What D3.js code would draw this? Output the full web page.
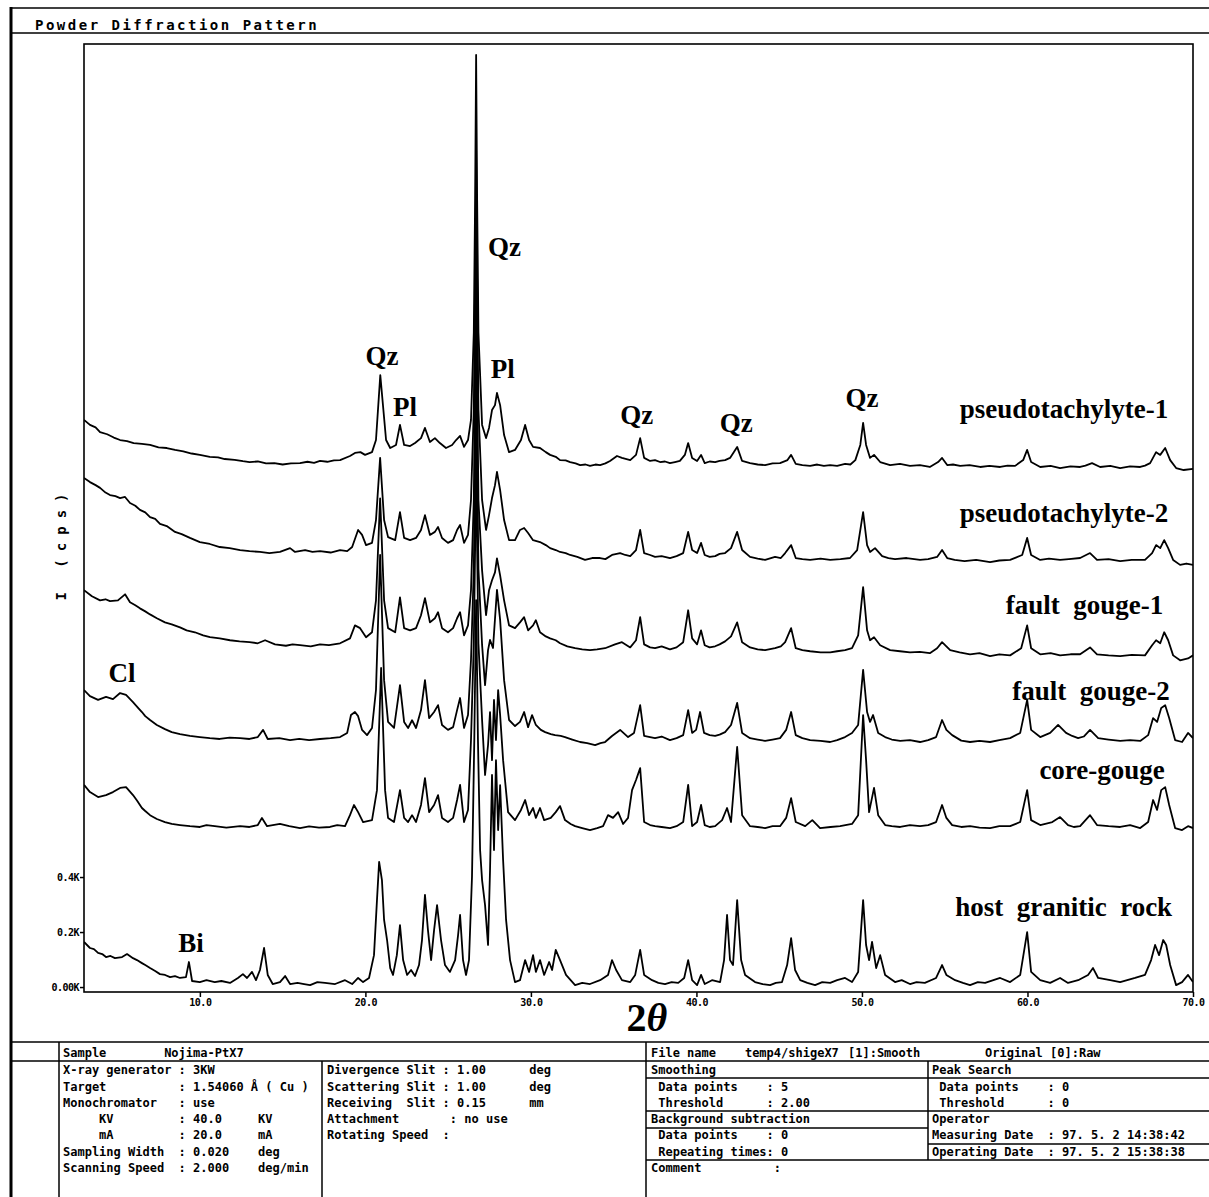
<!DOCTYPE html>
<html>
<head>
<meta charset="utf-8">
<script src="https://cdn.jsdelivr.net/npm/d3@7"></script>
<style>
body { margin: 0; background: #fff; }
text { fill: #000; }
.mono { font-family: "DejaVu Sans Mono", monospace; font-weight: bold; }
.lab { font-family: "Liberation Serif", "Times New Roman", serif; font-weight: bold; font-size: 27px; white-space: pre; }
.tbl { font-family: "DejaVu Sans Mono", monospace; font-weight: bold; font-size: 12px; white-space: pre; }
</style>
</head>
<body>
<svg id="chart" width="1209" height="1197"></svg>
<script>
// 2theta ticks, intensity ticks (cps)
var thetaTicks = [10, 20, 30, 40, 50, 60, 70]
var yTickValues = [0, 200, 400]
var yTickLabels = ['0.00K', '0.2K', '0.4K']

var seriesNames = ['pseudotachylyte-1', 'pseudotachylyte-2', 'fault  gouge-1', 'fault  gouge-2', 'core-gouge', 'host  granitic  rock']
var seriesOffsets = [1820, 1480, 1130, 820, 500, 0]
var seriesLabelTheta = [68.5, 68.5, 68.2, 68.6, 68.3, 68.74]
var seriesLabelCps = [2069, 1691, 1356, 1044, 756, 258]

var peakLabels = ['Qz', 'Pl', 'Qz', 'Pl', 'Qz', 'Qz', 'Qz', 'Cl', 'Bi']
var peakLabelTheta = [21.0, 22.4, 28.4, 28.3, 36.4, 42.4, 50.0, 5.3, 9.47]
var peakLabelCps = [2262, 2076, 2658, 2214, 2047, 2018, 2109, 1109, 127]

// [2theta, cps]
var pseudo1 = [[3.0,242],[3.36,224],[3.7,215],[3.97,198],[4.4,190],[4.8,178],[5.18,169],[5.6,165],[6.0,158],[6.5,155],[6.99,151],[7.5,142],[8.0,140],[8.5,133],[9.0,128],[9.5,120],[10.0,115],[10.6,108],[11.1,106],[11.5,100],[12.1,97],[12.6,92],[13.0,89],[13.5,91],[14.0,84],[14.5,85],[15.0,80],[15.5,84],[16.05,85],[16.5,90],[16.9,86],[17.26,93],[17.7,90],[18.1,95],[18.47,96],[19.07,111],[19.37,122],[19.7,125],[19.98,115],[20.4,125],[20.64,169],[20.9,405],[21.25,169],[21.5,140],[21.85,151],[22.09,224],[22.34,151],[22.7,147],[23.0,158],[23.36,176],[23.6,213],[23.9,162],[24.2,176],[24.5,158],[24.87,140],[25.24,151],[25.48,169],[25.72,184],[25.96,144],[26.2,169],[26.38,242],[26.55,560],[26.63,1050],[26.69,1569],[26.75,1050],[26.83,560],[27.05,224],[27.29,176],[27.47,213],[27.65,278],[27.83,296],[27.95,340],[28.14,296],[28.38,187],[28.68,125],[29.04,133],[29.4,169],[29.65,224],[29.89,169],[30.13,144],[30.55,140],[30.9,125],[31.16,115],[31.5,108],[31.76,96],[32.1,95],[32.37,89],[32.7,84],[32.97,78],[33.3,80],[33.57,75],[33.9,80],[34.18,78],[34.5,84],[34.78,93],[35.2,111],[35.5,104],[36.0,96],[36.35,115],[36.6,176],[36.84,104],[37.2,93],[37.5,96],[37.8,89],[38.1,91],[38.4,85],[38.7,89],[39.0,93],[39.3,115],[39.5,158],[39.74,104],[40.04,93],[40.28,115],[40.5,85],[40.8,91],[41.13,89],[41.4,93],[41.73,96],[42.03,104],[42.46,144],[42.76,93],[43.24,85],[43.7,80],[44.15,78],[44.6,84],[45.05,85],[45.5,96],[45.72,115],[46.0,82],[46.4,78],[46.87,75],[47.3,80],[47.7,75],[48.08,78],[48.5,75],[48.98,82],[49.3,80],[49.6,96],[49.9,151],[50.07,231],[50.25,151],[50.49,104],[50.73,115],[51.1,89],[51.7,78],[52.3,82],[52.9,75],[53.5,78],[54.1,71],[54.6,89],[54.84,104],[55.15,78],[55.5,80],[55.93,75],[56.5,78],[57.14,71],[57.7,75],[58.35,71],[58.8,76],[59.25,75],[59.74,96],[59.98,133],[60.22,89],[60.77,71],[61.4,75],[61.97,67],[62.6,73],[63.18,71],[63.5,76],[63.9,85],[64.39,71],[65.0,75],[65.6,67],[66.2,73],[66.81,71],[67.1,76],[67.41,85],[67.77,125],[68.02,115],[68.32,140],[68.62,96],[68.98,67],[69.44,60],[70.0,64]]

var pseudo2 = [[3.0,371],[3.36,356],[3.7,345],[3.97,335],[4.3,318],[4.57,309],[4.9,305],[5.18,298],[5.48,302],[5.78,280],[6.1,270],[6.38,255],[6.7,246],[6.99,229],[7.3,222],[7.59,204],[8.0,196],[8.5,175],[8.9,167],[9.4,153],[10.0,138],[10.6,131],[11.2,120],[11.8,116],[12.43,109],[13.0,105],[13.63,102],[14.2,98],[14.84,102],[15.45,116],[15.75,102],[16.36,109],[16.8,102],[17.26,105],[17.9,100],[18.47,109],[18.9,105],[19.2,120],[19.56,182],[19.8,164],[20.04,127],[20.4,135],[20.64,218],[20.89,444],[21.13,218],[21.37,156],[21.8,145],[22.09,247],[22.34,153],[22.7,145],[23.06,153],[23.36,182],[23.6,236],[23.9,164],[24.2,175],[24.39,193],[24.63,153],[24.99,135],[25.3,145],[25.54,182],[25.72,200],[25.96,135],[26.2,164],[26.38,291],[26.55,620],[26.63,1100],[26.69,1563],[26.75,1100],[26.83,620],[27.05,291],[27.29,182],[27.47,236],[27.65,298],[27.83,345],[27.95,393],[28.14,327],[28.38,218],[28.68,145],[29.04,145],[29.34,182],[29.59,189],[29.83,171],[30.13,145],[30.55,138],[30.9,127],[31.16,116],[31.5,109],[31.76,102],[32.1,98],[32.37,91],[32.8,84],[33.27,73],[33.7,80],[34.18,80],[34.5,76],[34.9,91],[35.39,98],[35.7,91],[36.0,87],[36.35,109],[36.6,182],[36.84,98],[37.2,91],[37.5,84],[37.9,87],[38.4,80],[38.8,87],[39.2,98],[39.5,175],[39.74,109],[40.04,98],[40.28,135],[40.5,91],[40.8,84],[41.13,87],[41.4,95],[41.73,98],[42.09,116],[42.46,175],[42.76,109],[43.24,84],[43.7,78],[44.15,73],[44.75,84],[45.1,80],[45.36,98],[45.72,127],[46.0,80],[46.4,76],[46.87,73],[47.5,78],[48.08,73],[48.7,76],[49.28,80],[49.71,109],[50.07,247],[50.31,127],[50.49,102],[50.79,116],[51.22,87],[51.6,80],[52.0,76],[52.7,80],[53.51,73],[54.0,76],[54.54,84],[54.84,109],[55.15,80],[55.6,73],[56.2,69],[56.9,73],[57.74,65],[58.3,71],[58.95,73],[59.68,91],[59.98,153],[60.22,91],[60.77,73],[61.3,78],[61.97,73],[62.5,76],[63.18,80],[63.78,98],[64.2,73],[64.9,76],[65.6,69],[66.3,73],[67.1,73],[67.53,98],[67.77,127],[68.02,116],[68.26,145],[68.5,116],[68.8,73],[69.22,55],[69.6,60],[70.0,55]]

var gouge1 = [[3.0,313],[3.48,291],[3.97,276],[4.3,280],[4.57,273],[5.05,276],[5.48,298],[5.78,269],[6.1,258],[6.38,247],[6.7,236],[6.99,225],[7.4,211],[7.89,196],[8.3,189],[8.8,178],[9.2,167],[9.7,160],[10.2,149],[10.61,142],[11.2,138],[11.82,131],[12.4,127],[13.0,124],[13.5,120],[13.94,131],[14.54,116],[15.2,111],[15.6,116],[16.05,113],[16.7,109],[17.26,116],[17.8,113],[18.47,120],[19.07,138],[19.37,185],[19.68,175],[20.04,142],[20.4,160],[20.64,276],[20.89,647],[21.13,276],[21.37,175],[21.8,160],[22.09,287],[22.34,175],[22.7,167],[23.06,175],[23.36,222],[23.6,284],[23.9,196],[24.2,211],[24.39,233],[24.63,175],[24.99,160],[25.3,175],[25.54,211],[25.72,233],[25.96,149],[26.2,185],[26.38,313],[26.55,640],[26.63,1100],[26.69,1549],[26.75,1100],[26.83,640],[27.05,385],[27.29,222],[27.47,313],[27.65,349],[27.83,378],[27.95,429],[28.14,367],[28.38,276],[28.68,185],[29.04,175],[29.34,196],[29.59,215],[29.83,167],[30.13,185],[30.3,204],[30.55,160],[30.9,145],[31.16,138],[31.5,131],[31.76,120],[32.2,109],[32.67,102],[33.1,98],[33.57,95],[34.0,98],[34.48,102],[35.08,116],[35.5,124],[36.0,105],[36.35,131],[36.6,215],[36.84,116],[37.2,105],[37.5,102],[37.9,109],[38.4,98],[38.8,105],[39.2,124],[39.5,240],[39.74,138],[40.04,116],[40.28,167],[40.5,113],[40.8,105],[41.13,109],[41.4,116],[41.73,127],[42.09,145],[42.46,196],[42.76,124],[43.24,105],[43.7,98],[44.15,95],[44.75,102],[45.1,109],[45.36,124],[45.72,175],[46.0,102],[46.4,95],[46.87,91],[47.5,87],[48.08,87],[48.5,91],[48.98,95],[49.4,102],[49.77,149],[50.07,324],[50.31,167],[50.49,131],[50.73,142],[51.1,113],[51.7,95],[52.3,91],[52.9,87],[53.5,89],[54.1,84],[54.54,102],[54.84,124],[55.1,109],[55.33,95],[55.9,87],[56.53,80],[57.1,84],[57.74,73],[58.3,80],[58.95,76],[59.62,102],[59.98,185],[60.22,102],[60.77,80],[61.4,84],[61.97,76],[62.6,80],[63.18,80],[63.78,105],[64.2,80],[64.9,76],[65.6,73],[66.3,78],[67.1,76],[67.53,113],[67.77,131],[68.02,120],[68.26,160],[68.5,131],[68.8,76],[69.22,58],[69.7,65],[70.0,76]]

var gouge2 = [[3.0,260],[3.36,238],[3.85,224],[4.33,235],[4.75,227],[5.18,249],[5.54,242],[5.96,216],[6.2,200],[6.5,180],[6.7,165],[6.99,151],[7.4,133],[7.89,118],[8.3,107],[8.8,100],[9.4,93],[10.0,89],[10.6,85],[11.2,82],[11.8,87],[12.43,85],[13.0,82],[13.5,89],[13.82,115],[14.1,82],[14.8,85],[15.45,78],[16.0,82],[16.6,78],[17.26,82],[17.9,85],[18.47,89],[18.9,104],[19.13,169],[19.37,180],[19.56,165],[19.8,115],[20.1,96],[20.4,122],[20.64,260],[20.89,751],[21.13,296],[21.37,144],[21.73,122],[22.09,278],[22.34,144],[22.58,122],[22.82,150],[23.06,122],[23.36,187],[23.6,296],[23.85,158],[24.15,180],[24.39,205],[24.63,133],[24.99,115],[25.3,125],[25.54,187],[25.72,231],[25.96,122],[26.2,169],[26.38,369],[26.55,700],[26.63,1100],[26.69,1496],[26.75,1100],[26.83,700],[27.05,424],[27.23,278],[27.41,405],[27.53,442],[27.71,413],[27.95,624],[28.14,515],[28.38,296],[28.68,151],[29.04,129],[29.34,144],[29.59,180],[29.83,125],[30.07,169],[30.3,133],[30.6,115],[30.86,107],[31.2,100],[31.46,96],[31.8,93],[32.06,89],[32.5,80],[32.97,71],[33.4,67],[33.88,60],[34.2,67],[34.48,71],[34.9,93],[35.39,115],[35.87,89],[36.23,104],[36.6,205],[36.84,93],[37.2,89],[37.5,85],[37.9,91],[38.4,78],[38.8,85],[39.2,96],[39.5,187],[39.74,104],[39.98,115],[40.22,180],[40.46,104],[40.8,96],[41.13,93],[41.4,98],[41.73,107],[42.09,133],[42.46,213],[42.76,104],[43.24,85],[43.7,80],[44.15,75],[44.6,80],[45.05,85],[45.42,115],[45.72,180],[46.0,96],[46.4,85],[46.87,78],[47.5,75],[48.08,71],[48.5,78],[48.98,89],[49.4,104],[49.77,133],[50.07,333],[50.31,180],[50.49,144],[50.67,169],[50.98,104],[51.4,89],[51.8,80],[52.31,75],[52.9,78],[53.51,71],[54.0,78],[54.48,89],[54.84,151],[55.1,115],[55.45,96],[56.0,76],[56.53,71],[57.1,75],[57.74,71],[58.3,78],[58.95,85],[59.56,104],[59.98,224],[60.22,115],[60.77,89],[61.37,104],[61.85,133],[62.33,104],[62.7,93],[63.06,85],[63.4,91],[63.78,115],[64.27,85],[64.9,80],[65.6,75],[66.2,78],[66.81,75],[67.29,96],[67.59,158],[67.83,144],[68.08,195],[68.32,205],[68.56,158],[68.92,78],[69.34,71],[69.7,104],[70.0,85]]

var coreGouge = [[3.0,235],[3.36,209],[3.85,191],[4.33,198],[4.75,209],[5.18,224],[5.54,227],[5.96,198],[6.2,178],[6.5,151],[6.7,140],[6.99,125],[7.4,111],[7.89,100],[8.3,93],[8.8,89],[9.4,85],[10.0,82],[10.4,89],[10.9,85],[11.6,80],[12.43,85],[13.0,82],[13.5,89],[13.75,115],[14.06,85],[14.84,93],[15.4,85],[16.05,78],[16.6,84],[17.2,80],[17.86,82],[18.3,89],[18.77,85],[19.07,125],[19.31,162],[19.56,136],[19.86,100],[20.4,107],[20.7,216],[20.95,660],[21.19,216],[21.37,115],[21.73,100],[22.09,216],[22.34,115],[22.58,100],[22.82,125],[23.06,100],[23.36,162],[23.6,260],[23.85,136],[24.15,162],[24.39,198],[24.63,115],[24.99,100],[25.3,115],[25.54,180],[25.72,235],[25.96,100],[26.2,144],[26.38,398],[26.55,750],[26.63,1100],[26.69,1525],[26.75,1100],[26.83,750],[27.05,471],[27.23,271],[27.41,380],[27.53,500],[27.65,325],[27.77,544],[27.89,398],[28.02,580],[28.14,489],[28.32,325],[28.62,136],[29.04,107],[29.4,144],[29.65,180],[29.89,125],[30.13,151],[30.3,115],[30.55,151],[30.8,107],[31.2,115],[31.5,136],[31.76,158],[32.06,107],[32.4,93],[32.67,85],[33.1,78],[33.57,71],[34.0,78],[34.36,85],[34.66,125],[34.96,115],[35.27,136],[35.57,93],[35.87,115],[36.11,216],[36.35,253],[36.6,296],[36.84,100],[37.2,89],[37.5,85],[37.9,82],[38.4,78],[38.8,85],[39.2,100],[39.5,235],[39.74,85],[40.04,100],[40.28,162],[40.5,89],[40.8,82],[41.13,85],[41.55,107],[41.85,151],[42.09,100],[42.46,373],[42.76,125],[43.24,85],[43.7,82],[44.15,78],[44.6,85],[45.05,85],[45.42,115],[45.72,187],[46.0,100],[46.57,85],[47.0,107],[47.47,78],[48.1,82],[48.68,85],[49.4,93],[49.77,125],[50.07,489],[50.25,325],[50.43,136],[50.73,224],[50.98,125],[51.4,89],[51.8,85],[52.31,82],[52.9,89],[53.51,85],[54.0,89],[54.48,100],[54.84,162],[55.1,115],[55.45,89],[56.0,82],[56.53,85],[57.1,80],[57.74,78],[58.3,85],[58.95,85],[59.56,100],[59.98,216],[60.22,107],[60.77,89],[61.5,100],[61.97,118],[62.45,89],[62.8,82],[63.18,85],[63.78,125],[64.2,89],[64.9,85],[65.6,82],[66.2,89],[66.81,78],[67.29,100],[67.59,180],[67.83,144],[68.08,216],[68.32,227],[68.56,162],[68.92,78],[69.34,71],[69.7,85],[70.0,78]]

var hostRock = [[3.0,164],[3.36,142],[3.6,138],[3.85,124],[4.1,120],[4.33,109],[4.6,113],[4.87,105],[5.3,109],[5.6,120],[5.96,105],[6.2,98],[6.5,87],[6.7,80],[6.99,69],[7.3,58],[7.59,47],[7.9,44],[8.2,36],[8.5,40],[8.8,33],[9.16,36],[9.34,91],[9.53,22],[10.0,18],[10.4,25],[10.9,18],[11.3,22],[11.82,15],[12.3,33],[12.6,47],[12.85,33],[13.15,55],[13.39,25],[13.63,62],[13.88,142],[14.1,44],[14.4,11],[14.84,18],[15.15,40],[15.45,11],[15.9,15],[16.3,11],[16.66,7],[17.1,18],[17.56,15],[18.17,11],[18.77,25],[19.2,11],[19.56,33],[19.86,18],[20.22,33],[20.52,116],[20.7,316],[20.83,455],[21.0,389],[21.13,244],[21.31,171],[21.5,69],[21.67,44],[21.9,116],[22.09,225],[22.28,98],[22.52,44],[22.76,62],[23.0,40],[23.24,80],[23.42,171],[23.6,335],[23.78,207],[23.97,98],[24.15,207],[24.33,298],[24.57,171],[24.81,80],[25.11,55],[25.42,98],[25.6,189],[25.72,262],[25.9,98],[26.08,44],[26.26,98],[26.44,400],[26.58,900],[26.69,1407],[26.8,900],[26.93,498],[27.05,389],[27.23,298],[27.41,153],[27.53,425],[27.65,771],[27.77,498],[27.89,825],[28.02,571],[28.14,734],[28.32,462],[28.5,244],[28.74,98],[29.04,18],[29.34,25],[29.65,98],[29.89,55],[30.13,116],[30.3,55],[30.55,98],[30.8,44],[31.1,91],[31.28,62],[31.5,135],[31.76,98],[32.12,44],[32.67,7],[33.1,15],[33.57,11],[34.18,25],[34.66,44],[34.9,98],[35.15,62],[35.5,25],[36.0,18],[36.3,44],[36.6,135],[36.84,44],[37.32,25],[37.7,15],[38.1,11],[38.5,18],[38.9,15],[39.26,33],[39.5,98],[39.74,25],[40.04,7],[40.28,44],[40.5,11],[40.94,25],[41.43,18],[41.67,98],[41.85,262],[42.03,98],[42.21,80],[42.46,316],[42.7,98],[42.94,44],[43.54,18],[44.0,11],[44.45,7],[44.8,15],[45.17,18],[45.48,80],[45.72,178],[45.96,62],[46.27,25],[46.7,15],[47.17,7],[47.6,18],[48.08,15],[48.5,25],[48.98,33],[49.4,18],[49.77,55],[50.07,316],[50.25,153],[50.43,98],[50.61,164],[50.86,69],[51.1,116],[51.4,44],[52.0,18],[52.4,25],[52.9,11],[53.3,18],[53.8,15],[54.48,33],[54.84,80],[55.1,44],[55.63,25],[56.1,15],[56.53,7],[57.0,18],[57.44,15],[58.35,33],[58.95,18],[59.56,44],[59.98,200],[60.22,55],[60.77,25],[61.37,15],[61.97,33],[62.45,15],[63.06,25],[63.66,44],[63.96,69],[64.27,33],[65.0,25],[65.6,18],[66.5,33],[67.1,44],[67.47,98],[67.71,153],[67.95,116],[68.2,171],[68.38,153],[68.62,80],[68.98,7],[69.34,18],[69.7,44],[70.0,18]]

var allSeries = [pseudo1, pseudo2, gouge1, gouge2, coreGouge, hostRock]

// measurement conditions table
var sampleRow = 'Sample        Nojima-PtX7'
var leftRows = ['X-ray generator : 3KW', 'Target          : 1.54060 Å ( Cu )', 'Monochromator   : use', '     KV         : 40.0     KV', '     mA         : 20.0     mA', 'Sampling Width  : 0.020    deg', 'Scanning Speed  : 2.000    deg/min']
var midRows = ['Divergence Slit : 1.00      deg', 'Scattering Slit : 1.00      deg', 'Receiving  Slit : 0.15      mm', 'Attachment       : no use', 'Rotating Speed  :']
var fileRow = ['File name    temp4/shigeX7', '[1]:Smooth', 'Original [0]:Raw']
var smoothRows = ['Smoothing', ' Data points    : 5', ' Threshold      : 2.00', 'Background subtraction', ' Data points    : 0', ' Repeating times: 0', 'Comment          :']
var peakRows = ['Peak Search', ' Data points    : 0', ' Threshold      : 0', 'Operator', 'Measuring Date  : 97. 5. 2 14:38:42', 'Operating Date  : 97. 5. 2 15:38:38']

var svg = d3.select('#chart')
var W = 1209, H = 1197
var plot = {left: 84, right: 1193, top: 44, bottom: 992}

var x = d3.scaleLinear().domain([3, 70]).range([plot.left, plot.right])
var y = d3.scaleLinear().domain([-18, 3429]).range([plot.bottom, plot.top])

// page frame
var frame = svg.append('g').attr('stroke', '#000').attr('fill', 'none')
frame.append('line').attr('x1', 11).attr('x2', 11).attr('y1', 7).attr('y2', H).attr('stroke-width', 3)
frame.append('line').attr('x1', 10).attr('x2', W).attr('y1', 8).attr('y2', 8).attr('stroke-width', 1.5)
frame.append('line').attr('x1', 10).attr('x2', W).attr('y1', 33).attr('y2', 33).attr('stroke-width', 1.5)

svg.append('text').attr('class', 'mono')
	.attr('x', 35).attr('y', 30)
	.style('font-size', '14px').style('letter-spacing', '2.5px')
	.text('Powder Diffraction Pattern')

// plot
svg.append('clipPath').attr('id', 'clip').append('rect')
	.attr('x', plot.left).attr('y', plot.top)
	.attr('width', plot.right - plot.left).attr('height', plot.bottom - plot.top)

var line = d3.line()
var curves = svg.append('g').attr('clip-path', 'url(#clip)')
allSeries.forEach(function(s, i) {
	var off = seriesOffsets[i]
	curves.append('path')
		.attr('d', line.x(d => x(d[0])).y(d => y(d[1] + off))(s))
		.attr('fill', 'none')
		.attr('stroke', '#000')
		.attr('stroke-width', 1.8)
		.attr('stroke-linejoin', 'round')
})

svg.append('rect')
	.attr('x', plot.left).attr('y', plot.top)
	.attr('width', plot.right - plot.left).attr('height', plot.bottom - plot.top)
	.attr('fill', 'none').attr('stroke', '#000').attr('stroke-width', 1.6)

var xAxis = svg.append('g').attr('transform', 'translate(0,' + plot.bottom + ')')
	.call(d3.axisBottom(x).tickValues(thetaTicks).tickFormat(d3.format('.1f')).tickSize(5).tickPadding(2))
xAxis.select('.domain').remove()
xAxis.selectAll('line').attr('stroke-width', 1.5)
xAxis.selectAll('text').attr('class', 'mono').style('font-size', '10px').style('letter-spacing', '-0.5px').attr('fill', '#000')

var yAxis = svg.append('g').attr('transform', 'translate(' + plot.left + ',0)')
	.call(d3.axisLeft(y).tickValues(yTickValues).tickFormat((d, i) => yTickLabels[i]).tickSize(4).tickPadding(1))
yAxis.select('.domain').remove()
yAxis.selectAll('line').attr('stroke-width', 1.5)
yAxis.selectAll('text').attr('class', 'mono').style('font-size', '10px').style('letter-spacing', '-0.5px').attr('fill', '#000')

svg.append('text').attr('class', 'mono')
	.attr('transform', 'translate(66,543) rotate(-90)')
	.attr('text-anchor', 'middle')
	.style('font-size', '14px').style('letter-spacing', '8px')
	.text('I (cps)')

var xt = svg.append('text').attr('x', 647).attr('y', 1031).attr('text-anchor', 'middle')
	.style('font-family', '"Liberation Serif", serif').style('font-weight', 'bold').style('font-size', '40px')
xt.append('tspan').text('2')
xt.append('tspan').style('font-style', 'italic').text('θ')

// peak and sample labels
svg.append('g').selectAll('text').data(peakLabels).join('text')
	.attr('class', 'lab')
	.attr('x', (d, i) => x(peakLabelTheta[i]))
	.attr('y', (d, i) => y(peakLabelCps[i]))
	.attr('text-anchor', 'middle')
	.text(d => d)

svg.append('g').selectAll('text').data(seriesNames).join('text')
	.attr('class', 'lab')
	.attr('x', (d, i) => x(seriesLabelTheta[i]))
	.attr('y', (d, i) => y(seriesLabelCps[i]))
	.attr('text-anchor', 'end')
	.text(d => d)

// table
var tb = svg.append('g').attr('stroke', '#000').attr('stroke-width', 1.5)
function hl(x1, x2, yy) { tb.append('line').attr('x1', x1).attr('x2', x2).attr('y1', yy).attr('y2', yy) }
function vl(xx, y1, y2) { tb.append('line').attr('x1', xx).attr('x2', xx).attr('y1', y1).attr('y2', y2) }
hl(10, W, 1042)
hl(10, 646, 1061)
hl(646, W, 1061)
vl(59, 1042, H)
vl(322, 1061, H)
vl(646, 1042, H)
vl(928, 1061, 1160)
hl(646, W, 1078)
hl(646, W, 1111)
hl(646, 928, 1128)
hl(928, W, 1144)
hl(646, W, 1160)

var tt = svg.append('g')
function row(xx, yy, s) { tt.append('text').attr('class', 'tbl').attr('x', xx).attr('y', yy).text(s) }
var rowY = [1074, 1091, 1107, 1123, 1139, 1156, 1172]
row(63, 1057, sampleRow)
leftRows.forEach((s, i) => row(63, rowY[i], s))
midRows.forEach((s, i) => row(327, rowY[i], s))
row(651, 1057, fileRow[0]); row(848, 1057, fileRow[1]); row(985, 1057, fileRow[2])
smoothRows.forEach((s, i) => row(651, rowY[i], s))
peakRows.forEach((s, i) => row(932, rowY[i], s))
</script>
</body>
</html>
